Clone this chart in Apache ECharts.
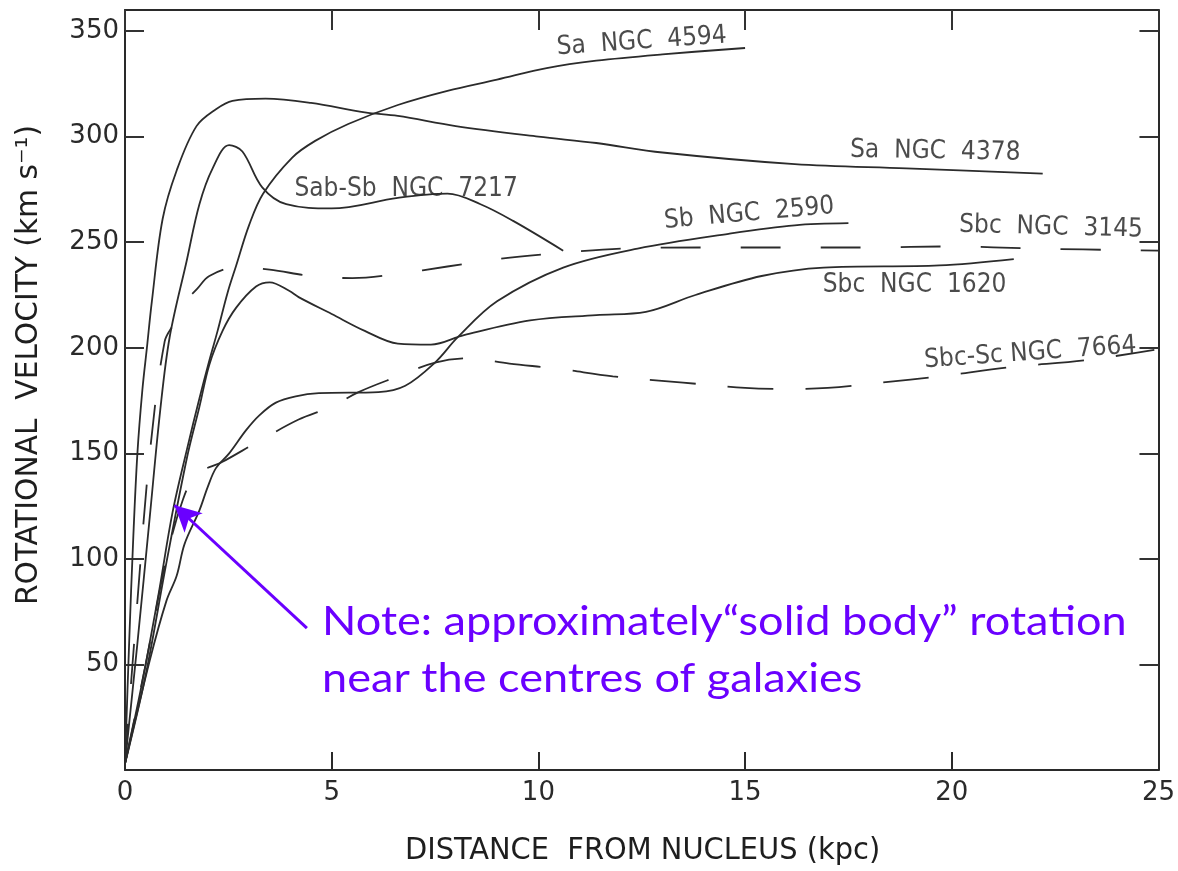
<!DOCTYPE html>
<html>
<head>
<meta charset="utf-8">
<script src="https://cdn.jsdelivr.net/npm/echarts@6/dist/echarts.min.js"></script>
<style>
html,body{margin:0;padding:0;background:#fff;}
#chart{width:1178px;height:871px;}
</style>
</head>
<body>
<div id="chart"></div>
<script>
// ---- data (distance kpc, rotational velocity km/s) ----
const xTicks = [0, 5, 10, 15, 20, 25];
const yTicks = [50, 100, 150, 200, 250, 300, 350];

const sa4594 = [[0,3],[0.4,40],[0.8,82],[1.15,122],[1.5,152],[1.8,176],[2.04,194],[2.24,208],[2.48,226],[2.69,239],[3.0,258],[3.34,273],[4.04,290],[4.6,298],[5.4,306],[6.6,315],[7.8,321.7],[9.0,327],[10.2,332.5],[11.4,336],[13,339],[15,342]];
const sa4378 = [[0,3],[0.1,60],[0.2,110],[0.3,150],[0.42,180],[0.53,200],[0.65,222],[0.91,261],[1.25,284],[1.73,305],[2.2,313],[2.6,317],[3.4,318],[4.5,316],[5.8,311.5],[6.6,309.8],[8,305],[10,300],[11.4,297],[13,292.5],[16.2,287],[18.9,285],[22.2,282.5]];
const sab7217 = [[0,3],[0.3,60],[0.6,120],[0.85,170],[1.08,205],[1.49,241],[1.8,268],[2.12,285],[2.52,296],[2.84,293],[3.32,276],[3.9,268],[5,266],[6.6,271],[7.8,273],[8.6,268],[9.4,260],[10.6,246]];
const sb2590 = [[0,3],[0.6,52],[1.0,80],[1.25,92],[1.44,107],[1.8,123],[2.0,134],[2.2,143],[2.52,150],[2.93,161],[3.25,168],[3.65,174],[4.13,177],[4.69,178.5],[6.13,179],[6.78,182],[7.5,193],[8.05,205],[9.0,222],[10.6,238],[12.4,247],[14.6,254],[16.2,258],[17.5,259]];
const sbc1620 = [[0,3],[0.5,45],[1.0,98],[1.5,148],[1.8,172],[2.04,192],[2.36,208],[2.69,219],[3.17,229],[3.5,231],[3.97,227],[4.2,224],[5,216],[5.8,208],[6.6,202],[7.4,201.5],[8.2,206],[9.8,213],[11.4,215.5],[12.6,217],[13.8,225],[15.4,234],[16.9,238],[19.7,239],[21.5,242]];
const sbc3145 = [[0,3],[0.3,80],[0.6,150],[0.96,203],[1.2,212],[1.37,220],[1.75,228],[2.04,234],[2.69,238],[3.5,237],[4.5,234],[5.5,233],[6.6,235],[7.8,238.5],[9.0,242],[10.6,245],[12,247],[14,247.5],[16,247.5],[18,247.5],[20,248],[22,247],[25,246]];
const sbcSc7664 = [[0,3],[0.5,50],[1.0,100],[1.4,128],[1.73,140],[2.36,146],[3.17,155],[4.2,166],[4.98,172],[5.65,179],[6.54,186],[7.5,193],[8.3,195],[9.3,192.5],[10.5,190],[11.8,186.5],[13.5,183.5],[15,181],[16,180.5],[17,181],[18.3,183.5],[19.7,186.5],[21.5,191],[23.2,194],[24.9,199]];

// curve labels: text, anchor in data units, tilt
const curveLabels = [
  ['Sa  NGC  4594', 12.5, 345, 4],
  ['Sa  NGC  4378', 19.6, 293, -1],
  ['Sab-Sb  NGC  7217', 6.8, 275, 0],
  ['Sb  NGC  2590', 15.1, 263.5, 5],
  ['Sbc  NGC  3145', 22.4, 257, -1.5],
  ['Sbc  NGC  1620', 19.1, 229.4, 0],
  ['Sbc-Sc NGC  7664', 21.9, 197.5, 4]
];
// annotation arrow (data units): from, to
const noteArrow = [[4.40, 67.2], [1.2, 125.4]];
const noteLines = ['Note: approximately\u201csolid body\u201d rotation', 'near the centres of galaxies'];

// ---- chart ----
const INK = '#2b2b2b';
const PURPLE = '#6a00ff';
const chart = echarts.init(document.getElementById('chart'), null, {renderer: 'canvas'});

function curve(name, data, dashed) {
  return {
    name: name, type: 'line', data: data, smooth: 0.35, symbol: 'none',
    xAxisIndex: 0, yAxisIndex: 0, silent: true,
    lineStyle: {color: INK, width: 1.8, type: dashed ? dashed : 'solid'}
  };
}

const tickFont = {fontFamily: 'DejaVu Sans', fontSize: 26, color: '#2a2a2a'};
const frameLine = {show: true, onZero: false, lineStyle: {color: '#2a2a2a', width: 2}};

const option = {
  animation: false,
  backgroundColor: '#fff',
  grid: {left: 125, right: 13, top: 10, bottom: 101, containLabel: false},
  xAxis: [
    {type: 'value', min: 0, max: 25, interval: 5, position: 'bottom',
     axisLine: frameLine,
     axisTick: {show: true, inside: true, length: 18, lineStyle: {color: '#2a2a2a', width: 2}},
     axisLabel: Object.assign({margin: 10, customValues: xTicks}, tickFont),
     splitLine: {show: false}},
    {type: 'value', min: 0, max: 25, interval: 5, position: 'top',
     axisLine: frameLine,
     axisTick: {show: true, inside: true, length: 20, lineStyle: {color: '#333', width: 2}},
     axisLabel: {show: false}, splitLine: {show: false}}
  ],
  yAxis: [
    {type: 'value', min: 0, max: 360, interval: 50, position: 'left',
     axisLine: frameLine,
     axisTick: {show: true, inside: true, length: 19, customValues: yTicks, lineStyle: {color: '#333', width: 2}},
     axisLabel: Object.assign({margin: 6, customValues: yTicks}, tickFont),
     splitLine: {show: false}},
    {type: 'value', min: 0, max: 360, interval: 50, position: 'right',
     axisLine: frameLine,
     axisTick: {show: true, inside: true, length: 19, customValues: yTicks, lineStyle: {color: '#333', width: 2}},
     axisLabel: {show: false}, splitLine: {show: false}}
  ],
  series: [
    curve('Sa NGC 4594', sa4594),
    curve('Sa NGC 4378', sa4378),
    curve('Sab-Sb NGC 7217', sab7217),
    curve('Sb NGC 2590', sb2590),
    curve('Sbc NGC 1620', sbc1620),
    curve('Sbc NGC 3145', sbc3145, [40, 40]),
    curve('Sbc-Sc NGC 7664', sbcSc7664, [46, 32]),
    {
      name: 'labels', type: 'scatter', symbolSize: 0, silent: true,
      data: curveLabels.map(function (l) {
        return {value: [l[1], l[2]], name: l[0], label: {rotate: l[3]}};
      }),
      label: {show: true, position: 'inside', formatter: '{b}',
              fontFamily: "'DejaVu Sans Condensed','DejaVu Sans'", fontSize: 26, color: '#1e1e1e'},
      markLine: {
        silent: true, animation: false,
        symbol: ['none', 'arrow'], symbolSize: [20, 26],
        label: {show: false},
        lineStyle: {color: PURPLE, width: 3, type: 'solid'},
        data: [[{coord: noteArrow[0]}, {coord: noteArrow[1]}]]
      }
    }
  ],
  graphic: [
    {type: 'text', x: 405, y: 851, scaleX: 1.07,
     style: {text: 'DISTANCE  FROM NUCLEUS (kpc)', font: "30px 'DejaVu Sans Condensed','DejaVu Sans'", fill: '#1e1e1e',
             align: 'left', verticalAlign: 'middle'}},
    {type: 'text', rotation: Math.PI / 2, x: 29, y: 365, scaleX: 1.1,
     style: {text: 'ROTATIONAL  VELOCITY (km s\u207b\u00b9)', font: "30px 'DejaVu Sans Condensed','DejaVu Sans'", fill: '#1e1e1e',
             align: 'center', verticalAlign: 'middle'}},
    {type: 'text', x: 322, y: 622, scaleX: 1.1,
     style: {text: noteLines[0], font: "41px Lato", fill: PURPLE, verticalAlign: 'middle'}},
    {type: 'text', x: 322, y: 679, scaleX: 1.1,
     style: {text: noteLines[1], font: "41px Lato", fill: PURPLE, verticalAlign: 'middle'}}
  ]
};
chart.setOption(option);
</script>
</body>
</html>
